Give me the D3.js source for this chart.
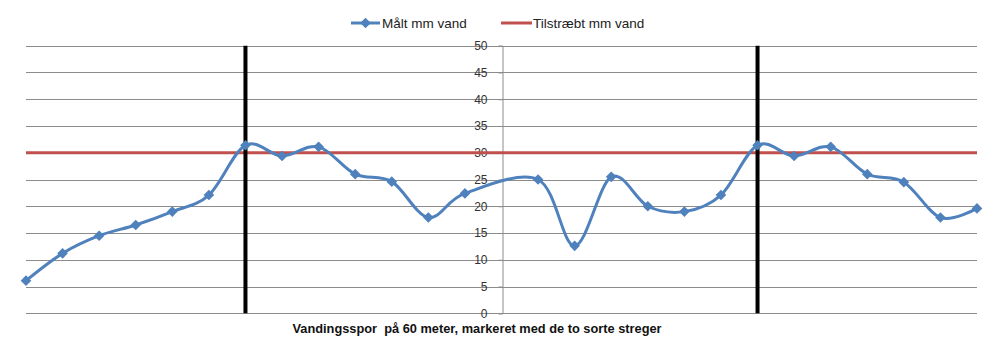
<!DOCTYPE html>
<html>
<head>
<meta charset="utf-8">
<script src="https://cdn.jsdelivr.net/npm/d3@7"></script>
<style>
  body { margin: 0; background: #fff; }
  text { font-family: "Liberation Sans", Arial, sans-serif; }
</style>
</head>
<body>
<svg id="chart"></svg>
<script>
// data (index 13 has no point)
const positions = d3.range(27)
const measured = [6.1, 11.2, 14.5, 16.5, 19.0, 22.1, 31.4, 29.4, 31.1, 26.0, 24.6, 17.9, 22.4, null,
                  25.0, 12.6, 25.5, 20.0, 19.0, 22.1, 31.4, 29.4, 31.1, 26.0, 24.5, 17.9, 19.6]
const target = 30
const markerLines = [6, 20]
const yTicks = [0, 5, 10, 15, 20, 25, 30, 35, 40, 45, 50]
const seriesNames = ['Målt mm vand', 'Tilstræbt mm vand']
const xTitle = 'Vandingsspor  på 60 meter, markeret med de to sorte streger'

const width = 1004
const height = 344
const blue = '#4f81bd'
const red = '#c0504d'

let svg = d3.select('#chart').attr('width', width).attr('height', height)

let x = d3.scalePoint().domain(positions).range([26, 977])
let y = d3.scaleLinear().domain([0, 50]).range([313.3, 45.7])

// gridlines
svg.append('g')
  .selectAll('line')
  .data(yTicks)
  .join('line')
  .attr('x1', x(0)).attr('x2', x(26))
  .attr('y1', d => Math.round(y(d)) + 0.5)
  .attr('y2', d => Math.round(y(d)) + 0.5)
  .attr('stroke', '#8c8c8c')
  .attr('stroke-width', 1)

// value axis crosses in the middle
let yAxis = svg.append('g')
  .attr('transform', `translate(${Math.round(x(13)) + 0.5},0)`)
  .call(d3.axisLeft(y).tickValues(yTicks).tickSize(4).tickPadding(11))
yAxis.select('.domain').attr('stroke', '#8c8c8c')
yAxis.selectAll('.tick line').attr('stroke', '#8c8c8c')
yAxis.selectAll('.tick text')
  .attr('font-size', 12)
  .attr('fill', '#333')
  .style('font-family', '"Liberation Sans", Arial, sans-serif')

// target line
svg.append('line')
  .attr('x1', x(0)).attr('x2', x(26))
  .attr('y1', y(target)).attr('y2', y(target))
  .attr('stroke', red)
  .attr('stroke-width', 3)

// black section markers
svg.append('g')
  .selectAll('line')
  .data(markerLines)
  .join('line')
  .attr('x1', d => x(d)).attr('x2', d => x(d))
  .attr('y1', y(50)).attr('y2', y(0))
  .attr('stroke', '#000')
  .attr('stroke-width', 4)

// measured series, smoothed and connected across the gap
let points = positions.map(i => ({ i, v: measured[i] })).filter(d => d.v !== null)

let line = d3.line()
  .x(d => x(d.i))
  .y(d => y(d.v))
  .curve(d3.curveCardinal.tension(0))

svg.append('path')
  .datum(points)
  .attr('d', line)
  .attr('fill', 'none')
  .attr('stroke', blue)
  .attr('stroke-width', 3)
  .attr('stroke-linejoin', 'round')

let diamond = d3.symbol().type(d3.symbolDiamond2).size(72)

svg.append('g')
  .selectAll('path')
  .data(points)
  .join('path')
  .attr('transform', d => `translate(${x(d.i)},${y(d.v)})`)
  .attr('d', diamond)
  .attr('fill', blue)

// x title
svg.append('text')
  .attr('x', 477)
  .attr('y', 333)
  .attr('text-anchor', 'middle')
  .attr('font-size', 12.8)
  .attr('font-weight', 'bold')
  .attr('fill', '#111')
  .attr('xml:space', 'preserve')
  .style('white-space', 'pre')
  .text(xTitle)

// legend
let legend = svg.append('g')
legend.append('line')
  .attr('x1', 351).attr('x2', 380).attr('y1', 23).attr('y2', 23)
  .attr('stroke', blue).attr('stroke-width', 3)
legend.append('path')
  .attr('transform', 'translate(365.5,23)')
  .attr('d', diamond)
  .attr('fill', blue)
legend.append('text')
  .attr('x', 382).attr('y', 27.5)
  .attr('font-size', 13.5)
  .attr('fill', '#222')
  .text(seriesNames[0])
legend.append('line')
  .attr('x1', 501).attr('x2', 532).attr('y1', 23).attr('y2', 23)
  .attr('stroke', red).attr('stroke-width', 3)
legend.append('text')
  .attr('x', 533).attr('y', 27.5)
  .attr('font-size', 13.5)
  .attr('fill', '#222')
  .text(seriesNames[1])
</script>
</body>
</html>
